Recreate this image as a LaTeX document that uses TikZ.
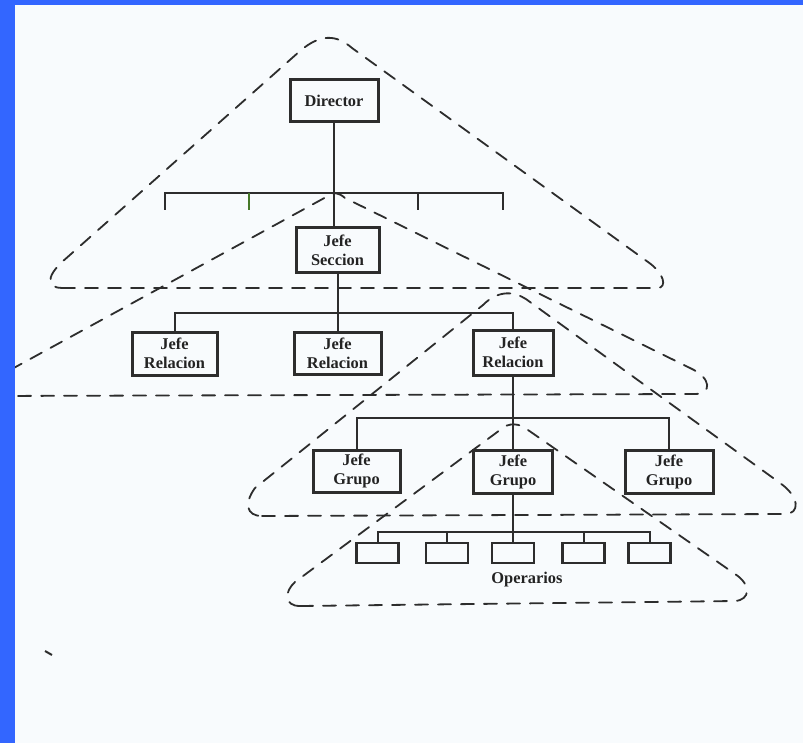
\documentclass[tikz,border=0pt]{standalone}
\usepackage{fontspec}
\setmainfont{Liberation Serif}
\definecolor{bgc}{RGB}{248,251,253}
\definecolor{bluec}{RGB}{51,102,255}
\definecolor{inkc}{RGB}{45,45,45}
\definecolor{txtc}{RGB}{35,35,35}
\definecolor{greenc}{RGB}{70,120,40}
\begin{document}
\begin{tikzpicture}[x=0.5pt,y=-0.5pt,
  box/.style={draw=inkc, line width=1.5pt, inner sep=0pt, align=center,
    font=\bfseries\fontsize{8.2}{9.5}\selectfont, text=txtc},
  opbox/.style={draw=inkc, line width=1.2pt, inner sep=0pt,
    minimum width=21pt, minimum height=10pt},
  conn/.style={draw=inkc, line width=1pt},
  tri/.style={draw=inkc, line width=0.9pt, dash pattern=on 6.5pt off 5pt, line cap=round}]
\useasboundingbox (0,0) rectangle (803,743);
\fill[bgc] (0,0) rectangle (803,743);

% dashed triangles
\draw[tri] (62,288) -- (657,288) .. controls (668,288) and (664,273) .. (648,262)
  -- (352,48) .. controls (336,34) and (320,34) .. (300,51)
  -- (62,262) .. controls (45,278) and (48,288) .. (62,288);
\draw[tri] (-10,381) -- (328,196) .. controls (333,192) and (338,192) .. (345,198)
  -- (690,368) .. controls (712,378) and (712,394) .. (695,394) -- (-10,396);
\draw[tri] (262,516) -- (785,514) .. controls (800,514) and (800,497) .. (780,483)
  -- (530,302) .. controls (515,290) and (498,290) .. (483,305)
  -- (255,488) .. controls (244,503) and (246,516) .. (262,516);
\draw[tri] (300,606) -- (735,601) .. controls (750,600) and (752,585) .. (735,574)
  -- (528,430) .. controls (520,423) and (508,422) .. (500,430)
  -- (295,582) .. controls (284,592) and (284,606) .. (300,606);

% boxes
\node[box, minimum width=44pt, minimum height=21pt] (director) at (334,101) {Director};
\node[box, minimum width=41.5pt, minimum height=22.5pt] (seccion) at (337.5,250.5) {Jefe\\Seccion};
\node[box, minimum width=42.5pt, minimum height=21.5pt] (rel1) at (174.5,353.5) {Jefe\\Relacion};
\node[box, minimum width=43.5pt, minimum height=21pt] (rel2) at (337.5,353) {Jefe\\Relacion};
\node[box, minimum width=40pt, minimum height=22.5pt] (rel3) at (513,352.5) {Jefe\\Relacion};
\node[box, minimum width=43.5pt, minimum height=21pt] (grupo1) at (356.5,471) {Jefe\\Grupo};
\node[box, minimum width=39.5pt, minimum height=21.5pt] (grupo2) at (513,471.5) {Jefe\\Grupo};
\node[box, minimum width=44pt, minimum height=21.5pt] (grupo3) at (669,471.5) {Jefe\\Grupo};
\node[opbox] (op1) at (377.5,553) {};
\node[opbox] (op2) at (447,553) {};
\node[opbox] (op3) at (513,553) {};
\node[opbox] (op4) at (583.5,553) {};
\node[opbox] (op5) at (649.5,553) {};
\node[font=\bfseries\fontsize{8.2}{9.5}\selectfont, text=txtc] (operarios) at (527,580) {Operarios};

% connectors
\coordinate (hub1) at (334,193);
\coordinate (t1) at (165,210);
\coordinate (t2) at (249,210);
\coordinate (t4) at (418,210);
\coordinate (t5) at (503,210);
\draw[conn] (director.south) -- (director.south |- seccion.north);
\draw[conn] (t1) |- (hub1) -| (t5);
\draw[conn] (t4) -- (t4 |- hub1);
\draw[conn, draw=greenc] (t2) -- (t2 |- hub1);

\coordinate (hub2) at (337.5,313);
\draw[conn] (seccion.south) -- (rel2.north);
\draw[conn] (rel1.north) |- (hub2) -| (rel3.north);

\coordinate (hub3) at (513,418);
\draw[conn] (rel3.south) -- (grupo2.north);
\draw[conn] (grupo1.north) |- (hub3) -| (grupo3.north);

\coordinate (hub4) at (513,532);
\draw[conn] (grupo2.south) -- (op3.north);
\draw[conn] (op1.north) |- (hub4) -| (op5.north);
\draw[conn] (op2.north) -- (op2.north |- hub4);
\draw[conn] (op4.north) -- (op4.north |- hub4);

% stray mark
\draw[inkc, line width=1pt] (45,651) -- (52,655);

% blue frame
\fill[bluec] (0,0) rectangle (15,743);
\fill[bluec] (0,0) rectangle (803,5);
\end{tikzpicture}
\end{document}
